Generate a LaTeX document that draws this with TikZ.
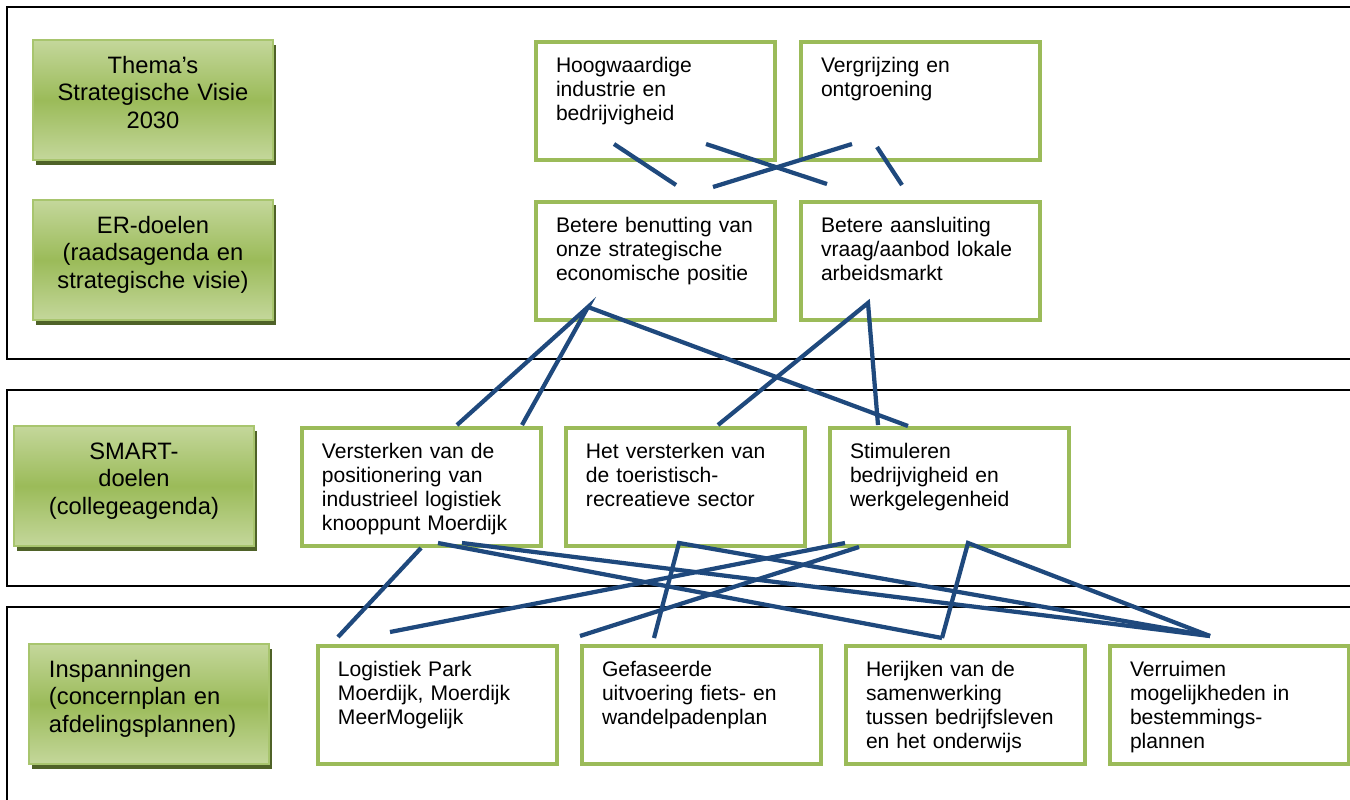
\documentclass[tikz,border=0pt]{standalone}
\usepackage{fontspec}
\setmainfont{Liberation Sans}
\usepackage{tikz}
\usetikzlibrary{shadows}

\definecolor{boxgreen}{RGB}{155,187,89}
\definecolor{lightgreen}{RGB}{196,215,155}
\definecolor{edgegreen}{RGB}{168,197,110}
\definecolor{shadowgreen}{RGB}{79,98,40}
\definecolor{linkblue}{RGB}{31,73,125}

\tikzset{
  panel/.style={draw=black, line width=0.03cm},
  levelbox/.style={draw=edgegreen, line width=0.04cm, anchor=north west,
    top color=lightgreen, bottom color=lightgreen, middle color=boxgreen,
    inner xsep=0.1cm, inner ysep=0pt, text width=4.6cm,
    text height=0.66cm, text depth=1.74cm, align=center,
    font=\fontsize{13.5}{15.9}\selectfont,
    drop shadow={opacity=1, fill=shadowgreen, shadow xshift=0.06cm, shadow yshift=-0.1cm}},
  goalbox/.style={draw=boxgreen, line width=0.08cm, fill=white, anchor=north west,
    inner xsep=0.4cm, inner ysep=0pt, text width=3.98cm,
    text height=0.6cm, text depth=1.76cm, align=left,
    font=\fontsize{12}{13.75}\selectfont},
  link/.style={draw=linkblue, line width=0.085cm}
}

\begin{document}
\begin{tikzpicture}[x=0.02cm, y=-0.02cm]
		\useasboundingbox (0,0) rectangle (1350,799);
		\clip (0,0) rectangle (1350,799);
		
		% the three panels
		\draw[panel] (7,7) rectangle (1380,359);
		\draw[panel] (7,390) rectangle (1380,586);
		\draw[panel] (7,607) rectangle (1380,830);
		
		% level names
		\node[levelbox] (thema) at (32,39) {Thema’s\\Strategische Visie\\2030};
		\node[levelbox] (er) at (32,199) {ER-doelen\\(raadsagenda en\\strategische visie)};
		\node[levelbox] (smart) at (13,425) {SMART-\\doelen\\(collegeagenda)};
		\node[levelbox, align=left, text width=4cm, inner xsep=0.4cm] (insp) at (28,643) {Inspanningen\\(concernplan en\\afdelingsplannen)};
		
		% themes and ER goals
		\node[goalbox] (hoog) at (534,40) {Hoogwaardige\\industrie en\\bedrijvigheid};
		\node[goalbox] (verg) at (799,40) {Vergrijzing en\\ontgroening};
		\node[goalbox] (benut) at (534,200) {Betere benutting van\\onze strategische\\economische positie};
		\node[goalbox] (aansl) at (799,200) {Betere aansluiting\\vraag/aanbod lokale\\arbeidsmarkt};
		
		% SMART goals
		\node[goalbox] (verst) at (300,426) {Versterken van de\\positionering van\\industrieel logistiek\\knooppunt Moerdijk};
		\node[goalbox] (toer) at (564,426) {Het versterken van\\de toeristisch-\\recreatieve sector};
		\node[goalbox] (stim) at (828,426) {Stimuleren\\bedrijvigheid en\\werkgelegenheid};
		
		% efforts
		\node[goalbox] (logi) at (316,644) {Logistiek Park\\Moerdijk, Moerdijk\\MeerMogelijk};
		\node[goalbox] (gefa) at (580,644) {Gefaseerde\\uitvoering fiets- en\\wandelpadenplan};
		\node[goalbox] (herij) at (844,644) {Herijken van de\\samenwerking\\tussen bedrijfsleven\\en het onderwijs};
		\node[goalbox] (verru) at (1108,644) {Verruimen\\mogelijkheden in\\bestemmings-\\plannen};
		
		% links themes -> ER goals
		\draw[link] ([shift={(80,104)}]hoog.north west) -- ([shift={(142,-15)}]benut.north west);
		\draw[link] ([shift={(172,104)}]hoog.north west) -- ([shift={(28,-16)}]aansl.north west);
		\draw[link] ([shift={(53,104)}]verg.north west) -- ([shift={(179,-13)}]benut.north west);
		\draw[link] ([shift={(78,107)}]verg.north west) -- ([shift={(103,-15)}]aansl.north west);
		
		% links ER goals -> SMART goals
		\draw[link] ([shift={(157,-1)}]verst.north west) -- ([shift={(54,107)}]benut.north west) -- ([shift={(222,-1)}]verst.north west);
		\draw[link] ([shift={(54,107)}]benut.north west) -- ([shift={(80,0)}]stim.north west);
		\draw[link] ([shift={(154,-1)}]toer.north west) -- ([shift={(69,103)}]aansl.north west) -- ([shift={(50,-1)}]stim.north west);
		
		% links SMART goals -> efforts
		\draw[link] ([shift={(121,122)}]verst.north west) -- ([shift={(22,-7)}]logi.north west);
		\draw[link] ([shift={(138,117)}]verst.north west) -- ([shift={(98,-6)}]herij.north west);
		\draw[link] ([shift={(162,117)}]verst.north west) -- ([shift={(102,-8)}]verru.north west);
		\draw[link] ([shift={(74,-6)}]gefa.north west) -- ([shift={(115,117)}]toer.north west) -- ([shift={(102,-8)}]verru.north west);
		\draw[link] ([shift={(17,117)}]stim.north west) -- ([shift={(74,-12)}]logi.north west);
		\draw[link] ([shift={(31,121)}]stim.north west) -- ([shift={(0,-8)}]gefa.north west);
		\draw[link] ([shift={(98,-6)}]herij.north west) -- ([shift={(140,117)}]stim.north west) -- ([shift={(102,-8)}]verru.north west);
		\end{tikzpicture}
\end{document}
